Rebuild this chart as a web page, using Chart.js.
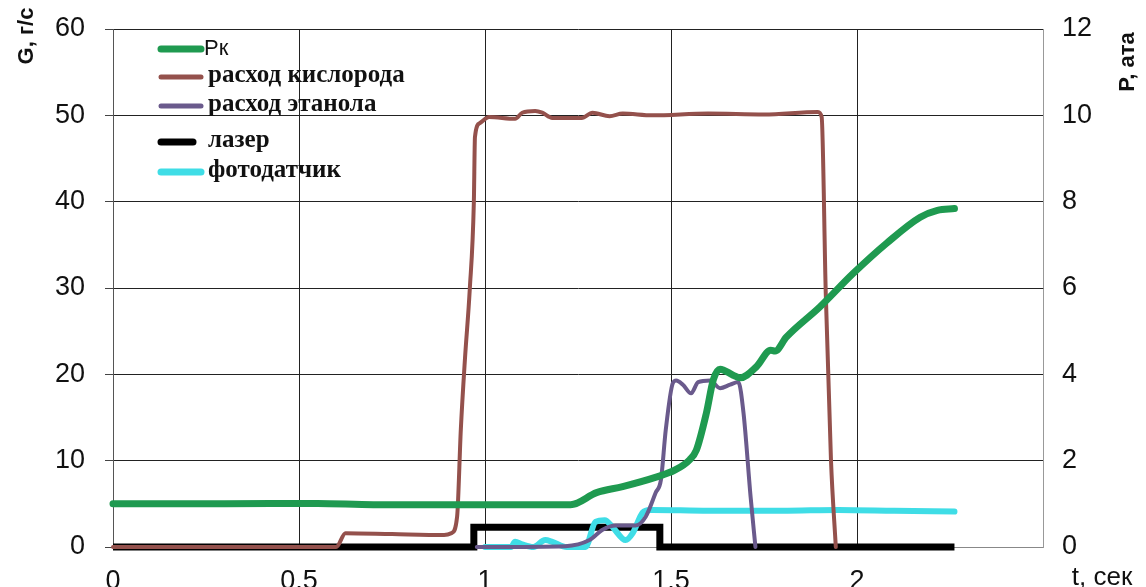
<!DOCTYPE html>
<html>
<head>
<meta charset="utf-8">
<script src="https://cdn.jsdelivr.net/npm/chart.js@4.4.1/dist/chart.umd.min.js"></script>
<style>
  html, body { margin: 0; padding: 0; background: #fff; }
  #wrap { width: 1146px; height: 587px; position: relative; }
</style>
</head>
<body>
<div id="wrap"><canvas id="c" width="1146" height="587"></canvas></div>
<script>
// ---- Data ----
const seriesLabels = ['Pк', 'расход кислорода', 'расход этанола', 'лазер', 'фотодатчик'];
const xTickValues = [0, 0.5, 1, 1.5, 2];
const xTickLabels = ['0', '0,5', '1', '1,5', '2'];

// Pк, ата (right axis)
const pkT = [0, 0.3, 0.55, 0.7, 1.0, 1.23, 1.30, 1.37, 1.46, 1.51, 1.55, 1.568, 1.595, 1.614, 1.632, 1.667, 1.686, 1.73, 1.768, 1.78, 1.81, 1.90, 1.99, 2.08, 2.17, 2.216, 2.262];
const pkP = [1.0, 1.0, 1.01, 0.98, 0.98, 0.98, 1.26, 1.40, 1.62, 1.78, 2.02, 2.24, 3.1, 3.88, 4.12, 3.98, 3.92, 4.18, 4.56, 4.54, 4.86, 5.56, 6.34, 7.04, 7.64, 7.80, 7.84];

// расход кислорода, г/с
const oxT = [0, 0.60, 0.625, 0.75, 0.89, 0.91, 0.925, 0.935, 0.946, 0.959, 0.97, 0.973, 0.986, 1.011, 1.081, 1.10, 1.135, 1.154, 1.181, 1.22, 1.26, 1.289, 1.335, 1.37, 1.45, 1.60, 1.75, 1.895, 1.905, 1.916, 1.93, 1.943];
const oxG = [0, 0, 1.6, 1.5, 1.4, 1.6, 3.5, 13.6, 21.7, 29.8, 39.9, 47.5, 49.1, 49.8, 49.6, 50.3, 50.5, 50.3, 49.7, 49.7, 49.7, 50.3, 49.9, 50.2, 50.0, 50.2, 50.1, 50.4, 49.8, 29.4, 10.1, 0];

// расход этанола, г/с
const etT = [0.978, 1.216, 1.281, 1.316, 1.351, 1.405, 1.432, 1.459, 1.473, 1.486, 1.505, 1.514, 1.532, 1.554, 1.573, 1.605, 1.632, 1.659, 1.681, 1.695, 1.714, 1.727];
const etG = [0, 0.1, 0.8, 2.0, 2.5, 2.5, 3.5, 6.3, 7.8, 13.6, 19.0, 19.3, 18.8, 17.8, 19.1, 19.3, 18.4, 18.8, 19.1, 15.5, 5.8, 0];

// лазер
const lzT = [0, 0.97, 0.97, 1.47, 1.47, 2.262];
const lzG = [0, 0, 2.3, 2.3, 0, 0];

// фотодатчик
const fdT = [1.0, 1.07, 1.081, 1.10, 1.13, 1.162, 1.181, 1.22, 1.27, 1.297, 1.322, 1.343, 1.378, 1.397, 1.424, 1.443, 1.451, 1.6, 1.8, 1.95, 2.1, 2.262];
const fdG = [0, 0, 0.6, 0.3, 0, 0.8, 0.6, 0, 0, 2.9, 3.1, 2.3, 0.8, 1.6, 4.0, 4.3, 4.3, 4.2, 4.2, 4.3, 4.2, 4.1];

const pts = (xs, ys) => xs.map((x, i) => ({ x: x, y: ys[i] }));

const SANS = "'Liberation Sans', Arial, sans-serif";
const SERIF = "'Liberation Serif', 'Times New Roman', serif";

const legendPlugin = {
  id: 'customDecor',
  afterDraw(chart) {
    const ctx = chart.ctx;
    ctx.save();
    // axis titles
    ctx.fillStyle = '#111';
    ctx.font = 'bold 22px ' + SANS;
    ctx.textAlign = 'center';
    ctx.textBaseline = 'middle';
    ctx.save(); ctx.translate(27, 36); ctx.rotate(-Math.PI / 2); ctx.fillText('G, г/с', 0, 0); ctx.restore();
    ctx.save(); ctx.translate(1128, 62); ctx.rotate(-Math.PI / 2); ctx.fillText('P, ата', 0, 0); ctx.restore();
    ctx.font = '26px ' + SANS;
    ctx.fillText('t, сек', 1102, 578);

    // legend
    const rows = [49, 77, 106, 142, 172];
    chart.data.datasets.forEach((ds, i) => {
      const y = rows[i];
      ctx.strokeStyle = ds.borderColor;
      ctx.lineCap = 'round';
      ctx.lineWidth = (i === 0 || i === 3 || i === 4) ? 7 : 5;
      const x1 = 161, x2 = i === 3 ? 193 : 201;
      ctx.beginPath(); ctx.moveTo(x1, y); ctx.lineTo(x2, y); ctx.stroke();
      ctx.fillStyle = '#111';
      ctx.textAlign = 'left';
      ctx.textBaseline = 'middle';
      if (i === 0) { ctx.font = '22px ' + SANS; ctx.fillText(ds.label, 204, y); }
      else { ctx.font = 'bold 25px ' + SERIF; ctx.fillText(ds.label, 208, y - 1); }
    });
    ctx.restore();
  }
};

new Chart(document.getElementById('c'), {
  type: 'line',
  data: {
    datasets: [
      { label: seriesLabels[0], data: pts(pkT, pkP), yAxisID: 'y1', borderColor: '#1f9a50', borderWidth: 7, cubicInterpolationMode: 'monotone', order: 0, clip: 10 },
      { label: seriesLabels[1], data: pts(oxT, oxG), yAxisID: 'y', borderColor: '#94514c', borderWidth: 4, cubicInterpolationMode: 'monotone', order: 1, clip: 10 },
      { label: seriesLabels[2], data: pts(etT, etG), yAxisID: 'y', borderColor: '#6a5a8c', borderWidth: 4, cubicInterpolationMode: 'monotone', order: 2, clip: 10 },
      { label: seriesLabels[3], data: pts(lzT, lzG), yAxisID: 'y', borderColor: '#000000', borderWidth: 7, tension: 0, order: 4, clip: 10, borderJoinStyle: 'miter', borderCapStyle: 'butt' },
      { label: seriesLabels[4], data: pts(fdT, fdG), yAxisID: 'y', borderColor: '#3fdde6', borderWidth: 6, cubicInterpolationMode: 'monotone', order: 3, clip: 10 }
    ]
  },
  options: {
    responsive: false,
    animation: false,
    elements: { point: { radius: 0 }, line: { borderCapStyle: 'round', borderJoinStyle: 'round' } },
    layout: { padding: { top: 29, left: 0, right: 0, bottom: 0 } },
    plugins: { legend: { display: false }, tooltip: { enabled: false } },
    scales: {
      x: {
        type: 'linear', min: 0, max: 2.5,
        afterBuildTicks: (s) => { s.ticks = xTickValues.concat([2.5]).map(v => ({ value: v })); },
        afterFit: (s) => { s.height = 40; },
        ticks: {
          callback: (v) => { const i = xTickValues.indexOf(v); return i >= 0 ? xTickLabels[i] : ''; },
          font: { family: SANS, size: 27 }, color: '#111', padding: 18, maxRotation: 0, autoSkip: false
        },
        grid: { color: '#222', lineWidth: 1, drawTicks: false },
        border: { display: true, color: '#888' }
      },
      y: {
        position: 'left', min: 0, max: 60,
        afterFit: (s) => { s.width = 113; },
        ticks: { stepSize: 10, font: { family: SANS, size: 27, lineHeight: 0.5 }, color: '#111', padding: 20 },
        grid: { color: '#222', lineWidth: 1, tickLength: 8, tickColor: '#444' },
        border: { display: true, color: '#555' }
      },
      y1: {
        position: 'right', min: 0, max: 12,
        afterFit: (s) => { s.width = 103; },
        ticks: { stepSize: 2, font: { family: SANS, size: 27, lineHeight: 0.5 }, color: '#111', padding: 19 },
        grid: { drawOnChartArea: false, drawTicks: false },
        border: { display: true, color: '#999' }
      }
    }
  },
  plugins: [legendPlugin]
});
</script>
</body>
</html>
